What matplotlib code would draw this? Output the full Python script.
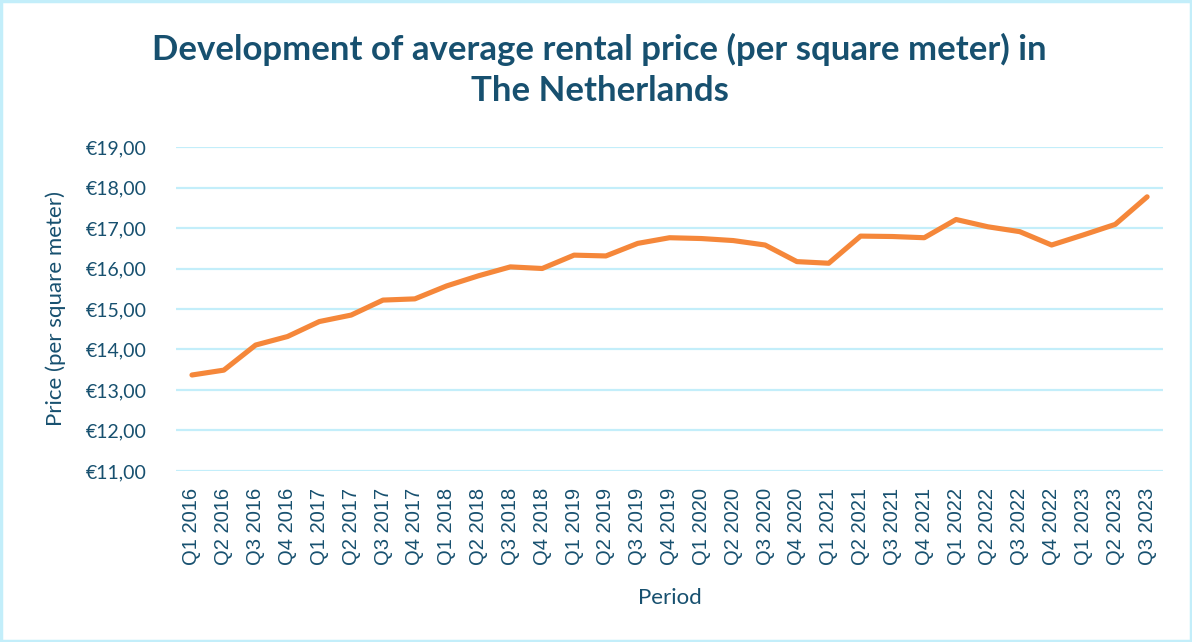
import matplotlib.pyplot as plt
from matplotlib.patches import Rectangle

# Data
periods = [
    'Q1 2016', 'Q2 2016', 'Q3 2016', 'Q4 2016',
    'Q1 2017', 'Q2 2017', 'Q3 2017', 'Q4 2017',
    'Q1 2018', 'Q2 2018', 'Q3 2018', 'Q4 2018',
    'Q1 2019', 'Q2 2019', 'Q3 2019', 'Q4 2019',
    'Q1 2020', 'Q2 2020', 'Q3 2020', 'Q4 2020',
    'Q1 2021', 'Q2 2021', 'Q3 2021', 'Q4 2021',
    'Q1 2022', 'Q2 2022', 'Q3 2022', 'Q4 2022',
    'Q1 2023', 'Q2 2023', 'Q3 2023',
]
price = [
    13.37, 13.49, 14.11, 14.32,
    14.69, 14.85, 15.22, 15.25,
    15.57, 15.82, 16.04, 16.00,
    16.33, 16.31, 16.62, 16.76,
    16.74, 16.69, 16.58, 16.17,
    16.13, 16.80, 16.79, 16.76,
    17.21, 17.03, 16.91, 16.58,
    16.83, 17.09, 17.77,
]
y_ticks = [11, 12, 13, 14, 15, 16, 17, 18, 19]
y_tick_labels = ['€11,00', '€12,00', '€13,00', '€14,00', '€15,00',
                 '€16,00', '€17,00', '€18,00', '€19,00']

text_color = '#17506f'
line_color = '#f5873a'
grid_color = '#c3eefa'
main_font = ['Lato', 'DejaVu Sans']

fig = plt.figure(figsize=(11.92, 6.42), dpi=100)
ax = fig.add_axes([0.1477, 0.2664, 0.8280, 0.5046])

x = list(range(len(periods)))
ax.plot(x, price, color=line_color, linewidth=3.7,
        solid_capstyle='round', solid_joinstyle='round', zorder=3)

ax.set_xlim(-0.5, len(periods) - 0.5)
ax.set_ylim(11, 19)
ax.set_yticks(y_ticks)
ax.set_yticklabels(y_tick_labels, family=main_font, fontsize=14, color=text_color)
ax.set_xticks(x)
ax.set_xticklabels(periods, rotation=90, family='Liberation Sans',
                   fontsize=14.5, color=text_color)
ax.tick_params(axis='both', length=0)
ax.tick_params(axis='y', pad=21)
ax.tick_params(axis='x', pad=12)

ax.grid(axis='y', color=grid_color, linewidth=1.6)
ax.set_axisbelow(True)
for s in ax.spines.values():
    s.set_visible(False)

ax.set_xlabel('Period', family=main_font, fontsize=16, color=text_color, labelpad=17)
ax.set_ylabel('Price (per square meter)', family=main_font, fontsize=16,
              color=text_color, labelpad=14)

fig.text(0.503, 0.891, 'Development of average rental price (per square meter) in\nThe Netherlands',
         ha='center', va='center', family=main_font, fontsize=25, fontweight='bold',
         color=text_color, linespacing=1.38)

# light border round the whole chart
fig.patches.append(Rectangle((0.001, 0.002), 0.998, 0.996, transform=fig.transFigure,
                             fill=False, edgecolor=grid_color, linewidth=2.5))

plt.savefig('out.png', dpi=100)
